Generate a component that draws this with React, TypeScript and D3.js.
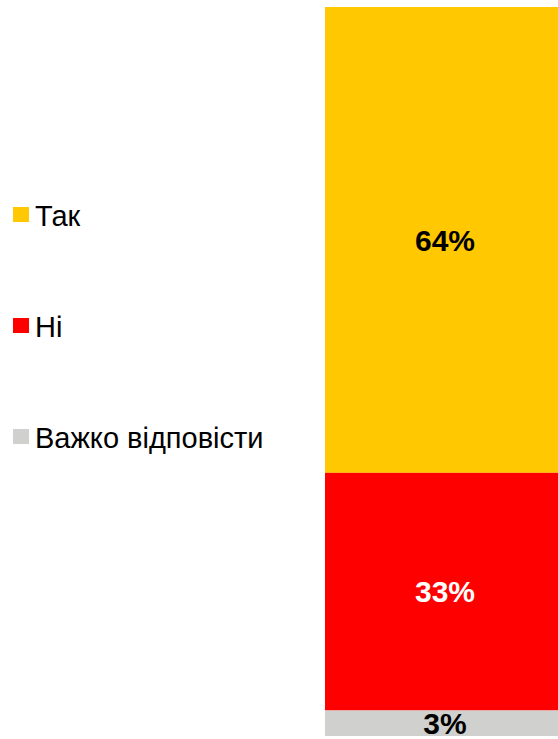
import * as d3 from "d3";
import { useEffect, useRef } from "react";

// categories + shares
const categories = ["Так", "Ні", "Важко відповісти"];
const shares = [63.9, 32.6, 3.5];
const valueLabels = ["64%", "33%", "3%"];
const colors = ["#FFC800", "#FF0000", "#D0D0CE"];
const labelColors = ["#000000", "#FFFFFF", "#000000"];

const App = () => {
  const svgRef = useRef<SVGSVGElement>(null);
  const width = 558;
  const height = 739;

  useEffect(() => {
    const svg = d3.select(svgRef.current);
    svg.selectAll("*").remove();

    const total = d3.sum(shares);
    const y = d3.scaleLinear().domain([0, total]).range([7, 736]);
    const x0 = 325;
    const barW = 240;

    let acc = 0;
    const segs = shares.map((v, i) => {
      const s = { i, start: acc, end: acc + v };
      acc += v;
      return s;
    });

    const bar = svg.append("g");
    bar.selectAll("rect").data(segs).join("rect")
      .attr("x", x0)
      .attr("width", barW)
      .attr("y", d => y(d.start))
      .attr("height", d => y(d.end) - y(d.start))
      .attr("fill", d => colors[d.i]);

    bar.selectAll("text").data(segs).join("text")
      .attr("x", x0 + barW / 2)
      .attr("y", d => (y(d.start) + y(d.end)) / 2)
      .attr("dy", "0.36em")
      .attr("text-anchor", "middle")
      .attr("font-family", "'Liberation Sans', Arial, sans-serif")
      .attr("font-weight", "bold")
      .attr("font-size", 30)
      .attr("fill", d => labelColors[d.i])
      .text(d => valueLabels[d.i]);

    // legend
    const ly = d3.scalePoint().domain(categories).range([226, 448]);
    const leg = svg.append("g").selectAll("g").data(categories).join("g")
      .attr("transform", d => `translate(0, ${ly(d)})`);
    leg.append("rect")
      .attr("x", 13).attr("y", -19)
      .attr("width", 16).attr("height", 15)
      .attr("fill", (d, i) => colors[i]);
    leg.append("text")
      .attr("x", 35).attr("y", 0)
      .attr("font-family", "'Liberation Sans', Arial, sans-serif")
      .attr("font-size", 29)
      .attr("fill", "#000")
      .text(d => d);
  }, []);

  return (
    <div style={{ position: "absolute", left: 0, top: 0 }}>
      <svg ref={svgRef} width={width} height={height} style={{ display: "block" }}></svg>
    </div>
  );
};

export default App;
